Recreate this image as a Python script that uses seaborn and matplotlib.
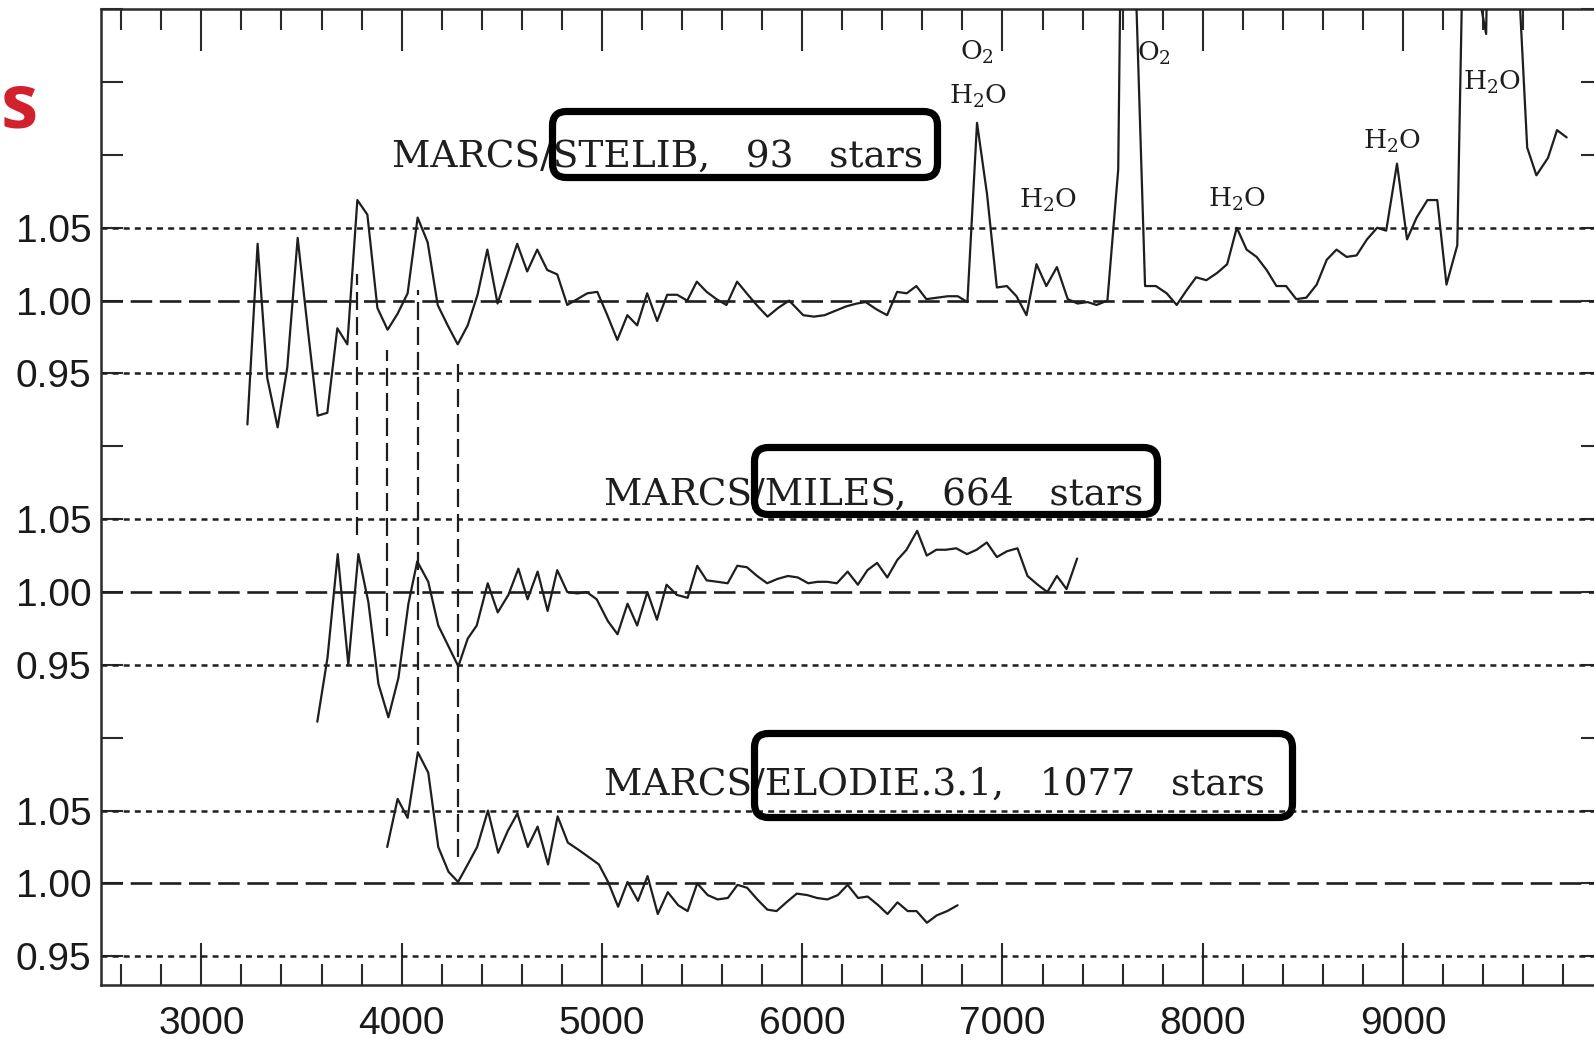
import matplotlib
matplotlib.use("Agg")
import matplotlib.pyplot as plt
import seaborn as sns
import pandas as pd
from matplotlib.ticker import MultipleLocator, FixedLocator, FixedFormatter, FuncFormatter
from matplotlib.patches import FancyBboxPatch
from matplotlib.transforms import IdentityTransform

# ---------------- data ----------------
stelib_wave = [3230, 3281, 3329, 3381, 3429, 3481, 3531, 3581, 3629, 3679,
               3729, 3779, 3829, 3879, 3930, 3980, 4030, 4080, 4130, 4180,
               4230, 4280, 4330, 4379, 4428, 4479, 4529, 4577, 4627, 4677,
               4727, 4777, 4827, 4877, 4927, 4977, 5027, 5077, 5127, 5176,
               5226, 5276, 5326, 5376, 5426, 5474, 5523, 5572, 5622, 5675,
               5729, 5779, 5827, 5880, 5935, 6005, 6059, 6112, 6166, 6219,
               6273, 6317, 6371, 6424, 6474, 6522, 6570, 6620, 6674, 6727,
               6777, 6825, 6873, 6923, 6972, 7022, 7070, 7120, 7170, 7219,
               7272, 7326, 7375, 7425, 7470, 7524, 7578, 7625, 7665, 7712,
               7766, 7820, 7870, 7919, 7967, 8018, 8072, 8122, 8170, 8219,
               8269, 8319, 8368, 8416, 8467, 8517, 8569, 8619, 8668, 8718,
               8768, 8820, 8871, 8916, 8970, 9020, 9068, 9122, 9171, 9217,
               9271, 9320, 9365, 9415, 9465, 9520, 9570, 9620, 9666, 9724,
               9769, 9817]
stelib_ratio = [0.915, 1.039, 0.947, 0.913, 0.954, 1.043, 0.981, 0.921, 0.923, 0.981,
                0.970, 1.069, 1.059, 0.995, 0.980, 0.991, 1.005, 1.057, 1.040, 0.997,
                0.983, 0.970, 0.983, 1.004, 1.035, 0.998, 1.019, 1.039, 1.020, 1.035,
                1.021, 1.018, 0.997, 1.001, 1.005, 1.006, 0.990, 0.973, 0.990, 0.983,
                1.005, 0.986, 1.004, 1.004, 1.000, 1.013, 1.006, 1.001, 0.997, 1.013,
                1.004, 0.996, 0.989, 0.995, 1.000, 0.990, 0.989, 0.990, 0.993, 0.996,
                0.998, 0.999, 0.994, 0.990, 1.006, 1.005, 1.010, 1.001, 1.002, 1.003,
                1.003, 0.999, 1.122, 1.073, 1.009, 1.010, 1.003, 0.990, 1.025, 1.010,
                1.023, 1.001, 0.998, 0.999, 0.997, 1.000, 1.090, 1.660, 1.220, 1.010,
                1.010, 1.005, 0.997, 1.007, 1.016, 1.014, 1.019, 1.025, 1.050, 1.035,
                1.030, 1.021, 1.010, 1.010, 1.001, 1.002, 1.011, 1.028, 1.035, 1.030,
                1.031, 1.042, 1.050, 1.048, 1.094, 1.042, 1.057, 1.069, 1.069, 1.011,
                1.038, 1.400, 1.220, 1.183, 1.600, 1.900, 1.240, 1.105, 1.086, 1.098,
                1.117, 1.112]

miles_wave = [3579, 3630, 3681, 3734, 3784, 3834, 3884, 3934, 3984, 4034,
              4078, 4133, 4183, 4233, 4283, 4330, 4375, 4430, 4480, 4533,
              4583, 4629, 4679, 4729, 4777, 4827, 4877, 4924, 4974, 5030,
              5078, 5128, 5176, 5227, 5275, 5323, 5374, 5428, 5476, 5523,
              5577, 5628, 5676, 5724, 5775, 5825, 5877, 5929, 5978, 6030,
              6077, 6125, 6173, 6227, 6278, 6326, 6374, 6425, 6475, 6521,
              6574, 6622, 6670, 6718, 6769, 6823, 6871, 6922, 6972, 7023,
              7075, 7125, 7176, 7224, 7272, 7320, 7373]
miles_ratio = [0.911, 0.955, 1.026, 0.950, 1.026, 0.993, 0.937, 0.914, 0.941, 0.992,
               1.021, 1.007, 0.977, 0.963, 0.949, 0.968, 0.977, 1.006, 0.986, 0.998,
               1.016, 0.995, 1.014, 0.987, 1.015, 1.000, 0.999, 1.000, 0.995, 0.980,
               0.971, 0.992, 0.977, 1.000, 0.981, 1.005, 0.998, 0.996, 1.018, 1.008,
               1.007, 1.006, 1.018, 1.017, 1.011, 1.006, 1.009, 1.011, 1.010, 1.006,
               1.007, 1.007, 1.006, 1.014, 1.005, 1.015, 1.020, 1.010, 1.022, 1.029,
               1.042, 1.025, 1.029, 1.029, 1.030, 1.026, 1.029, 1.034, 1.024, 1.028,
               1.030, 1.011, 1.005, 1.000, 1.011, 1.002, 1.023]

elodie_wave = [3928, 3980, 4030, 4081, 4133, 4183, 4234, 4282, 4330, 4377,
               4431, 4482, 4530, 4578, 4630, 4679, 4731, 4779, 4830, 4884,
               4935, 4985, 5031, 5081, 5128, 5180, 5228, 5279, 5329, 5381,
               5428, 5476, 5528, 5578, 5629, 5677, 5725, 5776, 5826, 5872,
               5921, 5973, 6025, 6074, 6126, 6178, 6227, 6279, 6327, 6380,
               6426, 6476, 6527, 6571, 6623, 6671, 6724, 6776]
elodie_ratio = [1.025, 1.058, 1.045, 1.090, 1.076, 1.025, 1.008, 1.001, 1.013, 1.025,
                1.050, 1.021, 1.036, 1.048, 1.025, 1.039, 1.013, 1.046, 1.028, 1.023,
                1.018, 1.013, 1.001, 0.984, 1.001, 0.988, 1.005, 0.979, 0.994, 0.985,
                0.981, 1.000, 0.992, 0.989, 0.990, 0.999, 0.997, 0.989, 0.982, 0.981,
                0.987, 0.993, 0.992, 0.990, 0.989, 0.992, 0.999, 0.990, 0.991, 0.985,
                0.979, 0.987, 0.981, 0.981, 0.973, 0.978, 0.981, 0.985]

panel_names = ["STELIB", "MILES", "ELODIE.3.1"]
panel_labels = ["MARCS/STELIB,   93   stars",
                "MARCS/MILES,   664   stars",
                "MARCS/ELODIE.3.1,   1077   stars"]
panel_offsets = [0.4, 0.2, 0.0]
label_wave = [3952, 5011, 5011]
label_level = [1.092, 1.060, 1.061]

# telluric feature annotations (top panel)
feature_text = ["O$_2$", "H$_2$O", "H$_2$O", "O$_2$", "H$_2$O", "H$_2$O", "H$_2$O"]
feature_wave = [6873, 6877, 7226, 7758, 8171, 8943, 9442]
feature_level = [1.165, 1.135, 1.064, 1.1645, 1.0645, 1.1045, 1.1445]

# vertical marker lines (wavelength, top, bottom in stacked axis units)
marker_wave = [3776, 3929, 4080, 4280]
marker_top = [1.418, 1.366, 1.407, 1.357]
marker_bottom = [1.239, 1.170, 1.095, 1.018]

ref_levels = [0.95, 1.00, 1.05]
ytick_labels = ["0.95", "1.00", "1.05"]
xtick_labelled = [3000, 4000, 5000, 6000, 7000, 8000, 9000]

# ---------------- figure ----------------
sns.set_style("ticks")
plt.rcParams["lines.scale_dashes"] = False
plt.rcParams["mathtext.fontset"] = "dejavuserif"
plt.rcParams["font.family"] = ["Liberation Sans", "DejaVu Sans"]

W, H = 1594, 1046
fig = plt.figure(figsize=(W / 100, H / 100), dpi=100)
fig.patch.set_facecolor("white")
ax = fig.add_axes([101.2 / W, (H - 985.4) / H, 1502.1 / W, 976.2 / H])
ax.set_facecolor("white")

frames = []
for name, off, w, r in zip(panel_names, panel_offsets,
                           [stelib_wave, miles_wave, elodie_wave],
                           [stelib_ratio, miles_ratio, elodie_ratio]):
    frames.append(pd.DataFrame({"wave": w, "ratio": r, "panel": name,
                                "y": [v + off for v in r]}))
df = pd.concat(frames, ignore_index=True)

line_col = "#1e1e1e"
for name in panel_names:
    sub = df[df["panel"] == name]
    sns.lineplot(data=sub, x="wave", y="y", ax=ax, color=line_col, lw=1.6,
                 estimator=None, sort=False, legend=False, zorder=3)

# reference lines
for off in panel_offsets:
    for lev in ref_levels:
        if abs(lev - 1.0) < 1e-9:
            ax.axhline(lev + off, color="#1e1e1e", lw=1.9, ls=(0, (15.5, 5.5)), zorder=2)
        else:
            ax.axhline(lev + off, color="#1e1e1e", lw=1.8, ls=(0, (4.3, 3.7)), zorder=2)

# vertical marker lines
for xw, yt, yb in zip(marker_wave, marker_top, marker_bottom):
    ax.plot([xw, xw], [yb, yt], color="#1e1e1e", lw=1.6, ls=(0, (13, 5)), zorder=2)

ax.set_xlim(2500, 10000)
ax.set_ylim(0.93, 1.60)
ax.set_xlabel("")
ax.set_ylabel("")

# ticks
ax.xaxis.set_major_locator(MultipleLocator(1000))
ax.xaxis.set_minor_locator(MultipleLocator(200))
ax.xaxis.set_major_formatter(FuncFormatter(
    lambda v, pos: f"{int(round(v))}" if int(round(v)) in xtick_labelled else ""))
ytick_pos = [0.95 + 0.05 * i for i in range(14)]
ylab = []
for p in ytick_pos:
    txt = ""
    for off in panel_offsets:
        for lev, lab in zip(ref_levels, ytick_labels):
            if abs(p - (lev + off)) < 1e-6:
                txt = lab
    ylab.append(txt)
ax.yaxis.set_major_locator(FixedLocator(ytick_pos))
ax.yaxis.set_major_formatter(FixedFormatter(ylab))

ax.tick_params(axis="x", which="major", direction="in", length=30, width=1.5,
               top=True, bottom=True, pad=15, labelsize=28, colors="#2a2a2a",
               labelcolor="#1a1a1a")
ax.tick_params(axis="x", which="minor", direction="in", length=15, width=1.5,
               top=True, bottom=True, colors="#2a2a2a")
ax.tick_params(axis="y", which="major", direction="in", length=15.5, width=1.5,
               left=True, right=True, pad=7, labelsize=28, colors="#2a2a2a",
               labelcolor="#1a1a1a")
for sp in ax.spines.values():
    sp.set_linewidth(1.8)
    sp.set_color("#2a2a2a")
    sp.set_visible(True)

# panel labels
for lab, xw, lev, off in zip(panel_labels, label_wave, label_level, panel_offsets):
    ax.text(xw, lev + off, lab, family="DejaVu Serif", fontsize=27,
            color="#1e1e1e", ha="left", va="baseline", zorder=4)

# telluric labels
for t, xw, lev in zip(feature_text, feature_wave, feature_level):
    ax.text(xw, lev + panel_offsets[0], t, family="DejaVu Serif", fontsize=19,
            color="#1e1e1e", ha="center", va="baseline", zorder=4)

# highlight boxes (pixel coordinates)
boxes = [(552.5, H - 177.5, 385, 66), (754.5, H - 514.5, 403, 67), (754.5, H - 817.5, 538, 84)]
for (x0, y0, bw, bh) in boxes:
    p = FancyBboxPatch((x0, y0), bw, bh, boxstyle="round,pad=0,rounding_size=14",
                       transform=IdentityTransform(), fill=False, lw=5.2,
                       ec="black", zorder=10)
    fig.add_artist(p)

# cut-off red letter at the left edge
fig.text(1 / W, (H - 128) / H, "s", color="#d0212d", fontsize=54, fontweight="bold",
         family=["Open Sans", "DejaVu Sans"], ha="left", va="baseline")

fig.savefig("out.png", dpi=100, facecolor="white")
